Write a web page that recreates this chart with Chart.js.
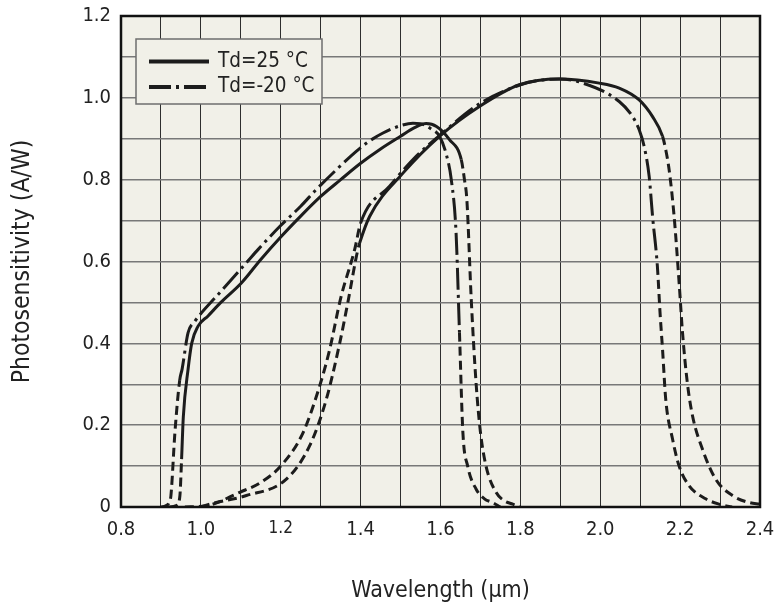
<!DOCTYPE html>
<html><head><meta charset="utf-8">
<script src="https://cdn.jsdelivr.net/npm/chart.js@4/dist/chart.umd.min.js"></script>
<style>html,body{margin:0;padding:0;background:#fff;}canvas{display:block;}</style>
</head><body>
<canvas id="c" width="776" height="605"></canvas>
<script>
// Standard InGaAs, Td = 25 °C
const std25Wl = [0.92, 0.94, 0.9475, 0.9517, 0.956, 0.968, 0.977, 0.993, 1.018, 1.05, 1.102, 1.15, 1.20, 1.25, 1.30, 1.35, 1.40, 1.45, 1.50, 1.535, 1.564, 1.59, 1.6225, 1.652, 1.66, 1.666, 1.677, 1.689, 1.70, 1.714, 1.739, 1.76, 1.781, 1.80];
const std25R  = [0, 0.004, 0.028, 0.117, 0.22, 0.337, 0.40, 0.442, 0.467, 0.50, 0.548, 0.605, 0.66, 0.711, 0.759, 0.80, 0.84, 0.875, 0.906, 0.927, 0.937, 0.93, 0.898, 0.849, 0.80, 0.751, 0.507, 0.304, 0.183, 0.10, 0.036, 0.015, 0.007, 0];
// Standard InGaAs, Td = -20 °C
const stdM20Wl = [0.90, 0.912, 0.92, 0.925, 0.935, 0.947, 0.953, 0.968, 0.985, 1.002, 1.039, 1.114, 1.143, 1.198, 1.25, 1.289, 1.34, 1.389, 1.42, 1.456, 1.50, 1.531, 1.55, 1.575, 1.5975, 1.615, 1.627, 1.639, 1.6475, 1.656, 1.668, 1.689, 1.71, 1.73, 1.75];
const stdM20R  = [0, 0.003, 0.01, 0.028, 0.182, 0.31, 0.337, 0.426, 0.454, 0.475, 0.515, 0.597, 0.629, 0.686, 0.735, 0.776, 0.825, 0.869, 0.893, 0.914, 0.932, 0.938, 0.937, 0.925, 0.906, 0.86, 0.80, 0.67, 0.426, 0.183, 0.10, 0.044, 0.02, 0.011, 0];
// Extended InGaAs, Td = 25 °C
const ext25Wl = [1.0, 1.0225, 1.114, 1.214, 1.2725, 1.314, 1.3475, 1.368, 1.393, 1.3975, 1.4225, 1.506, 1.5975, 1.6975, 1.7975, 1.8975, 1.9975, 2.0475, 2.0975, 2.131, 2.156, 2.164, 2.1725, 2.185, 2.1975, 2.206, 2.218, 2.231, 2.256, 2.289, 2.331, 2.3725, 2.40];
const ext25R  = [0, 0.007, 0.028, 0.068, 0.15, 0.263, 0.40, 0.50, 0.629, 0.645, 0.71, 0.816, 0.906, 0.979, 1.032, 1.046, 1.036, 1.024, 0.995, 0.954, 0.906, 0.873, 0.824, 0.71, 0.548, 0.426, 0.304, 0.223, 0.141, 0.068, 0.028, 0.011, 0.007];
// Extended InGaAs, Td = -20 °C
const extM20Wl = [0.96, 1.014, 1.0975, 1.15, 1.20, 1.256, 1.2975, 1.3225, 1.35, 1.385, 1.40, 1.4725, 1.539, 1.60, 1.70, 1.80, 1.85, 1.8975, 1.95, 2.0475, 2.081, 2.0975, 2.11, 2.1225, 2.131, 2.143, 2.15, 2.156, 2.164, 2.181, 2.1975, 2.2225, 2.264, 2.2975, 2.33];
const extM20R  = [0, 0.003, 0.036, 0.06, 0.10, 0.182, 0.296, 0.385, 0.51, 0.629, 0.694, 0.784, 0.857, 0.91, 0.987, 1.032, 1.043, 1.046, 1.038, 0.991, 0.954, 0.922, 0.881, 0.808, 0.71, 0.589, 0.47, 0.385, 0.263, 0.166, 0.10, 0.052, 0.02, 0.007, 0];

// measured (non-extrapolated) wavelength span of each curve
const std25Span  = [0.951, 1.653];
const stdM20Span = [0.946, 1.649];
const ext25Span  = [1.396, 2.157];
const extM20Span = [1.399, 2.149];

const seriesLabels = ['Td=25 °C', 'Td=-20 °C'];
const xTitle = 'Wavelength (µm)';
const yTitle = 'Photosensitivity (A/W)';

const FONT = "'DejaVu Sans Condensed', 'DejaVu Sans', sans-serif";
const INK = '#1c1c1c';
const TAIL_DASH = [9, 5];
const DASHDOT = [22, 5, 3, 5];

function pts(xs, ys) { return xs.map((x, i) => ({ x: x, y: ys[i] })); }
function tailDash(span) {
  return ctx => (ctx.p0.parsed.x < span[0] || ctx.p1.parsed.x > span[1]) ? TAIL_DASH : undefined;
}
function curve(label, xs, ys, span, dash, showInLegend) {
  return {
    label: label, data: pts(xs, ys), showInLegend: showInLegend,
    borderColor: INK, borderWidth: 3, borderDash: dash, borderCapStyle: 'butt',
    pointRadius: 0, fill: false, cubicInterpolationMode: 'monotone',
    segment: { borderDash: tailDash(span) }
  };
}

const plotFrame = {
  id: 'plotFrame',
  beforeDraw(chart) {
    const a = chart.chartArea, c = chart.ctx;
    c.save(); c.fillStyle = '#f1f0e8';
    c.fillRect(a.left, a.top, a.right - a.left, a.bottom - a.top); c.restore();
  },
  afterDatasetsDraw(chart) {
    const a = chart.chartArea, c = chart.ctx;
    c.save(); c.strokeStyle = '#111'; c.lineWidth = 2.5;
    c.strokeRect(a.left, a.top, a.right - a.left, a.bottom - a.top);
    // legend box
    const bx = a.left + 15, by = a.top + 23, bw = 186, bh = 65;
    c.fillStyle = '#f1f0e8'; c.fillRect(bx, by, bw, bh);
    c.strokeStyle = '#6e6e6e'; c.lineWidth = 1.5; c.strokeRect(bx, by, bw, bh);
    const items = chart.data.datasets.filter(d => d.showInLegend);
    items.forEach((d, i) => {
      const y = by + 22.5 + i * 25.5;
      c.strokeStyle = d.borderColor; c.lineWidth = 4; c.lineCap = 'butt';
      c.setLineDash(d.borderDash || []);
      c.beginPath(); c.moveTo(bx + 13, y); c.lineTo(bx + 73, y); c.stroke();
      c.setLineDash([]);
      c.fillStyle = '#222'; c.font = '20.5px ' + FONT; c.textBaseline = 'middle'; c.textAlign = 'left';
      c.fillText(d.label, bx + 82, y);
    });
    c.restore();
  }
};

new Chart(document.getElementById('c'), {
  type: 'line',
  data: {
    datasets: [
      curve(seriesLabels[0], std25Wl, std25R, std25Span, [], true),
      curve(seriesLabels[1], stdM20Wl, stdM20R, stdM20Span, DASHDOT, true),
      curve(seriesLabels[0], ext25Wl, ext25R, ext25Span, [], false),
      curve(seriesLabels[1], extM20Wl, extM20R, extM20Span, DASHDOT, false)
    ]
  },
  options: {
    responsive: false, animation: false, devicePixelRatio: 1,
    layout: { padding: { top: 16, right: 16, left: 0, bottom: 0 } },
    plugins: { legend: { display: false }, tooltip: { enabled: false } },
    scales: {
      x: {
        type: 'linear', min: 0.8, max: 2.4,
        afterFit: s => { s.height = 98; s.paddingLeft = 0; s.paddingRight = 0; },
        border: { display: false },
        grid: { color: '#2e2e2e', lineWidth: 1, drawTicks: false },
        ticks: {
          stepSize: 0.1, autoSkip: false, maxRotation: 0, padding: 11, color: '#222',
          font: ctx => ({ family: FONT, size: (ctx.tick && Math.abs(ctx.tick.value - 1.2) < 1e-6) ? 17 : 20 }),
          callback: v => (Math.round(v * 10) % 2 === 0) ? v.toFixed(1) : ''
        },
        title: { display: true, text: xTitle, color: '#222', font: { family: FONT, size: 23 }, padding: { top: 0, bottom: 0 } }
      },
      y: {
        min: 0, max: 1.2,
        afterFit: s => { s.width = 121; s.paddingTop = 0; s.paddingBottom = 0; },
        border: { display: false },
        grid: { color: '#787878', lineWidth: 1.5, drawTicks: false },
        ticks: {
          stepSize: 0.1, autoSkip: false, padding: 10, color: '#222',
          font: { family: FONT, size: 20 },
          callback: v => (Math.round(v * 10) % 2 === 0) ? (v === 0 ? '0' : v.toFixed(1)) : ''
        },
        title: { display: true, text: yTitle, color: '#222', font: { family: FONT, size: 24.5 }, padding: { top: 8, bottom: 0 } }
      }
    }
  },
  plugins: [plotFrame]
});
</script>
</body></html>
